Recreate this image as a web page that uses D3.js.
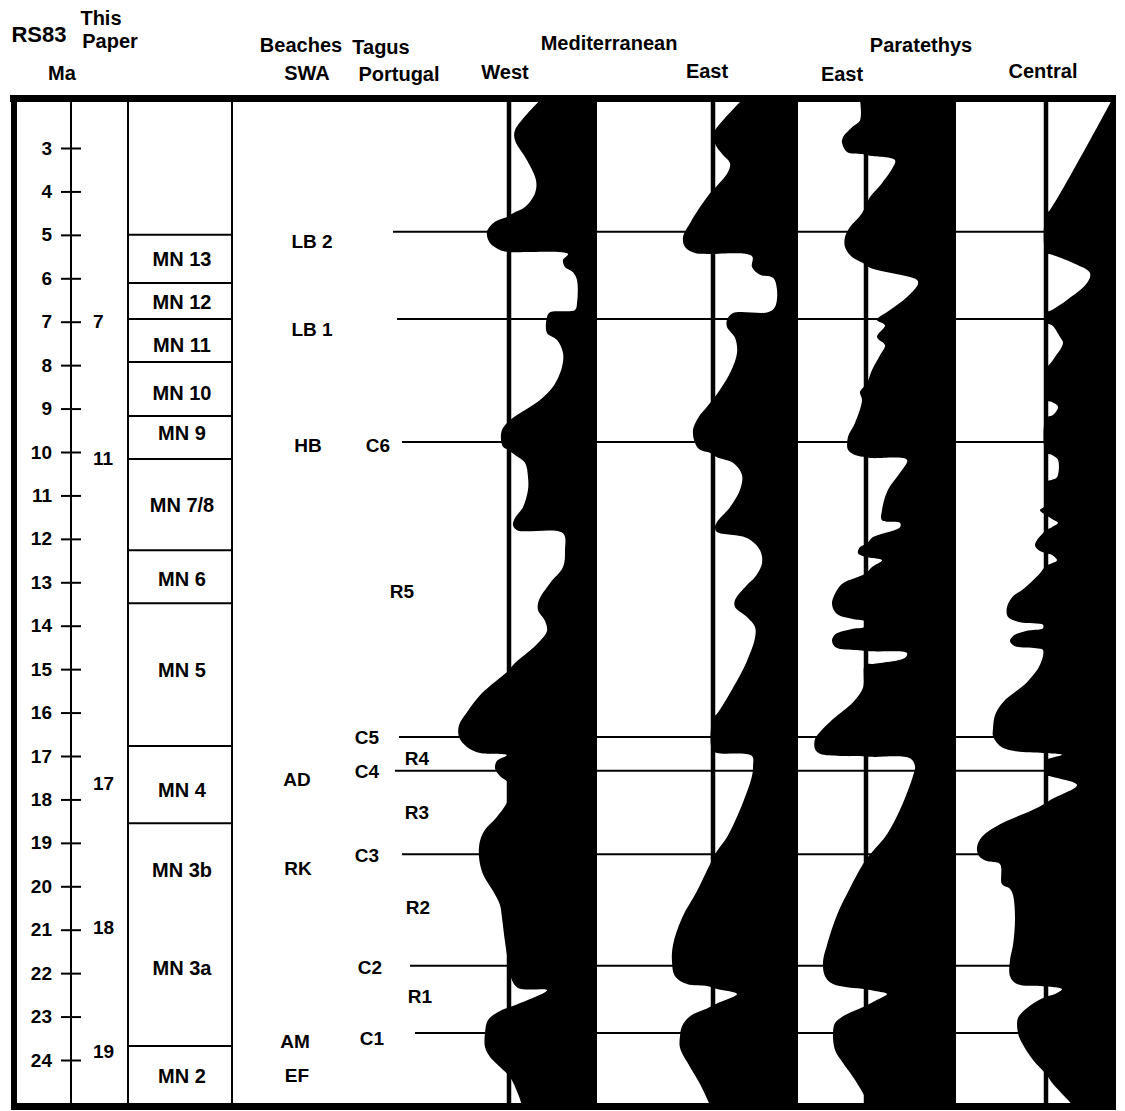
<!DOCTYPE html>
<html><head><meta charset="utf-8">
<script src="https://cdnjs.cloudflare.com/ajax/libs/d3/7.8.5/d3.min.js"></script>
<style>
body{margin:0;background:#fff}
text{font-family:"Liberation Sans",Arial,sans-serif;font-weight:bold;fill:#000}
</style>
</head><body>
<svg id="chart" width="1125" height="1111"></svg>
<script>
// ---------------- DATA ----------------
const tickValues = [3,4,5,6,7,8,9,10,11,12,13,14,15,16,17,18,19,20,21,22,23,24];
const thisPaperLabels = ["7","11","17","18","19"];
const thisPaperAges = [7.0, 10.14, 17.62, 20.95, 23.8];

const mnBoundaries = [5.00, 6.11, 6.94, 7.93, 9.17, 10.16, 12.26, 13.48, 16.77, 18.55, 23.68];
const mnLabels = ["MN 13","MN 12","MN 11","MN 10","MN 9","MN 7/8","MN 6","MN 5","MN 4","MN 3b","MN 3a","MN 2"];
const mnLabelAges = [5.56, 6.55, 7.54, 8.64, 9.56, 11.22, 12.92, 15.02, 17.78, 19.62, 21.88, 24.37];

const beachLabels = ["LB 2","LB 1","HB","AD","RK","AM","EF"];
const beachAges = [5.16, 7.17, 9.84, 17.53, 19.58, 23.56, 24.35];
const tagusLabels = ["C6","R5","C5","R4","C4","R3","C3","R2","C2","R1","C1"];
const tagusAges = [9.84, 13.22, 16.56, 17.05, 17.35, 18.29, 19.28, 20.48, 21.86, 22.53, 23.50];

const eventAges = [4.93, 6.94, 9.77, 16.56, 17.34, 19.26, 21.83, 23.38];

// relative sea-level curves: [age Ma, level units] (positive = landward of reference line)
const medWest = [[1.90,-3.1],[2.59,-0.6],[2.82,-0.6],[3.28,-1.8],[3.74,-2.7],[4.04,-2.6],[4.36,-1.6],[4.50,-0.4],[4.59,0.2],[4.70,1.4],[4.93,2.2],[5.19,1.9],[5.35,0.9],[5.39,0.2],[5.44,-5.9],[5.58,-5.4],[5.74,-5.6],[5.86,-6.4],[6.04,-6.8],[6.57,-6.8],[6.73,-6.6],[6.78,-4.1],[6.89,-3.8],[7.26,-3.8],[7.42,-4.8],[7.72,-5.4],[8.04,-5.3],[8.50,-4.4],[8.80,-3.1],[9.15,-0.8],[9.31,0.1],[9.49,0.7],[9.72,0.8],[9.88,0.6],[9.95,0.1],[10.07,-0.6],[10.25,-1.6],[10.58,-1.9],[10.87,-1.9],[11.27,-1.4],[11.52,-0.6],[11.68,-0.4],[11.80,-0.8],[11.87,-5.4],[12.26,-5.6],[12.65,-5.4],[13.02,-4.1],[13.41,-3.0],[13.64,-2.9],[13.89,-3.6],[14.12,-3.8],[14.35,-3.1],[14.63,-1.8],[14.86,-0.6],[15.04,0.1],[15.20,0.9],[15.60,2.9],[15.99,4.2],[16.29,5.0],[16.56,5.0],[16.79,4.2],[16.93,2.9],[16.98,0.2],[17.11,1.2],[17.28,1.4],[17.46,0.9],[17.62,0.1],[18.01,0.1],[18.40,1.2],[18.70,2.4],[18.96,2.9],[19.33,3.0],[19.72,2.6],[20.11,1.6],[20.43,0.9],[20.73,0.7],[21.28,0.4],[21.74,0.1],[22.04,-0.1],[22.34,-0.9],[22.39,-3.8],[22.71,-0.9],[22.87,0.9],[23.08,2.1],[23.38,2.4],[23.70,2.4],[23.93,1.9],[24.16,0.9],[24.39,-0.1],[24.78,-0.9],[25.05,-1.3]];

const medEast = [[1.89,-2.9],[2.31,-1.2],[2.59,-0.2],[2.70,0.0],[2.95,-0.3],[3.16,-1.0],[3.35,-1.7],[3.55,-1.5],[3.92,-0.2],[4.04,0.3],[4.36,1.3],[4.73,2.3],[5.05,3.0],[5.28,2.8],[5.42,1.8],[5.44,0.6],[5.49,-3.9],[5.74,-3.9],[5.92,-4.7],[5.99,-6.0],[6.27,-6.4],[6.66,-6.2],[6.78,-5.5],[6.80,-2.0],[6.96,-1.4],[7.12,-1.4],[7.37,-2.2],[7.72,-2.4],[8.18,-1.7],[8.73,-0.2],[8.96,0.6],[9.22,1.5],[9.49,2.0],[9.79,1.8],[9.95,1.3],[10.02,0.3],[10.12,-0.4],[10.25,-2.0],[10.53,-2.9],[10.87,-2.7],[11.27,-1.7],[11.61,-0.4],[11.73,-0.2],[11.84,-0.4],[11.98,-3.4],[12.26,-4.7],[12.56,-4.9],[12.88,-4.2],[13.06,-3.4],[13.41,-2.2],[13.57,-2.2],[13.80,-3.4],[14.03,-4.2],[14.28,-4.2],[14.81,-3.4],[15.43,-2.0],[16.03,-0.4],[16.12,0.0],[16.86,0.1],[16.93,-0.4],[17.00,-3.9],[17.23,-4.0],[17.46,-3.9],[18.24,-2.7],[18.87,-1.4],[19.19,-0.4],[19.49,0.3],[20.11,1.6],[20.73,3.1],[21.35,4.0],[21.74,4.1],[22.07,3.8],[22.25,2.6],[22.30,0.5],[22.37,-0.5],[22.48,-2.4],[22.69,-0.5],[22.80,0.5],[22.99,2.3],[23.22,3.1],[23.45,3.3],[23.72,3.3],[24.16,2.3],[24.55,1.3],[24.94,0.5],[25.06,0.3]];

const paraEast = [[1.89,0.6],[2.36,0.6],[2.52,1.4],[2.75,2.3],[2.88,2.4],[3.09,1.9],[3.14,0.4],[3.18,-0.4],[3.28,-2.9],[3.44,-2.7],[3.81,-1.6],[4.13,-0.4],[4.50,0.4],[4.82,1.6],[5.05,2.1],[5.28,2.1],[5.51,1.4],[5.65,0.3],[5.76,-0.4],[6.04,-5.1],[6.13,-5.2],[6.43,-4.1],[6.73,-2.4],[6.96,-1.1],[7.08,-1.9],[7.35,-1.1],[7.54,-1.9],[7.77,-1.4],[8.11,-0.6],[8.41,-0.1],[8.62,0.6],[8.80,0.4],[9.33,1.1],[9.65,1.8],[9.95,1.8],[10.07,1.1],[10.12,0.0],[10.14,-0.6],[10.18,-4.1],[10.48,-3.4],[10.87,-2.2],[11.34,-1.6],[11.57,-1.6],[11.63,-3.4],[11.73,-3.4],[11.96,-0.7],[12.10,-0.1],[12.19,0.6],[12.33,0.8],[12.42,0.0],[12.44,-0.6],[12.49,-1.6],[12.65,-0.6],[12.79,0.0],[13.02,2.3],[13.18,2.9],[13.50,3.4],[13.73,2.9],[13.85,1.2],[13.90,0.1],[14.02,0.1],[14.08,1.5],[14.20,3.1],[14.35,3.4],[14.50,3.0],[14.56,1.0],[14.58,0.0],[14.59,-0.7],[14.63,-4.1],[14.74,-3.9],[14.88,-0.7],[14.90,0.1],[15.43,0.3],[15.76,1.3],[16.15,3.3],[16.45,4.6],[16.61,5.1],[16.84,5.1],[16.95,4.6],[17.00,2.6],[17.01,0.1],[17.02,-0.6],[17.05,-4.4],[17.23,-4.9],[17.46,-4.7],[18.24,-3.4],[18.80,-2.1],[19.19,-0.7],[19.42,0.1],[20.04,1.6],[20.66,2.9],[21.35,3.9],[21.74,4.3],[22.07,4.1],[22.25,3.3],[22.37,0.1],[22.41,-0.9],[22.48,-2.1],[22.64,-0.9],[22.76,0.1],[22.99,2.3],[23.15,3.1],[23.38,3.3],[23.77,3.1],[24.07,2.3],[24.39,1.3],[24.85,0.1],[25.06,-0.2]];

const paraCentral = [[1.89,-6.6],[4.43,-0.4],[4.52,0.0],[5.42,0.0],[5.46,-0.6],[5.65,-2.7],[5.88,-4.4],[6.11,-4.1],[6.50,-2.1],[6.73,-0.6],[6.80,0.0],[7.03,0.0],[7.08,-0.6],[7.35,-1.4],[7.49,-1.7],[7.88,-0.7],[8.11,0.0],[8.80,0.0],[8.85,-0.6],[8.96,-1.2],[9.15,-0.7],[9.22,0.0],[10.02,0.0],[10.07,-0.6],[10.18,-1.2],[10.58,-1.1],[10.64,-0.6],[10.69,0.0],[11.22,0.0],[11.34,0.6],[11.45,0.0],[11.54,-0.6],[11.63,-1.2],[11.73,-0.6],[11.80,0.0],[12.14,1.1],[12.28,0.6],[12.33,0.0],[12.37,-0.6],[12.49,-1.1],[12.56,-0.6],[12.62,0.0],[12.79,0.6],[13.18,2.4],[13.32,3.3],[13.57,3.9],[13.80,3.8],[13.92,2.6],[13.98,0.3],[14.06,0.3],[14.12,2.0],[14.22,3.2],[14.35,3.6],[14.47,3.1],[14.52,1.0],[14.56,0.3],[14.90,0.6],[15.30,1.9],[15.76,4.3],[16.06,5.1],[16.38,5.3],[16.54,5.3],[16.77,4.6],[16.88,3.3],[16.93,0.3],[16.94,-0.6],[16.97,-1.6],[17.04,-0.6],[17.10,0.0],[17.44,0.0],[17.48,-0.6],[17.67,-3.1],[17.99,-0.6],[18.08,0.0],[18.24,1.3],[18.57,4.6],[18.86,6.4],[19.10,6.9],[19.30,6.7],[19.42,5.9],[19.49,4.6],[19.95,4.4],[20.06,3.6],[20.20,3.3],[20.73,3.1],[21.35,3.3],[21.70,3.6],[22.07,3.6],[22.25,2.9],[22.30,0.3],[22.32,-0.7],[22.37,-1.6],[22.48,-0.9],[22.57,0.3],[22.80,1.9],[23.03,2.8],[23.38,2.8],[23.61,2.4],[24.00,1.3],[24.30,0.1],[24.55,-0.7],[24.97,-2.4],[25.06,-2.7]];

// ---------------- LAYOUT ----------------
const W = 1125;
const yTop = 102, yBottom = 1103, frameRight = 1116;
const axisX = 71, col1X = 128, col2X = 232;
const panels = [
  {data: medWest, ref: 509, right: 597},
  {data: medEast, ref: 713, right: 798},
  {data: paraEast, ref: 866, right: 956},
  {data: paraCentral, ref: 1046, right: frameRight}
];
const eventStartX = [393, 397, 402, 399, 395, 402, 410, 415];
const beachX = [312, 312, 308, 297, 298, 295, 297];
const tagusX = [378, 402, 367, 417, 367, 417, 367, 418, 370, 420, 372];
const headers = [
  {t:"RS83", x:39, y:42, s:22}, {t:"This", x:101, y:25, s:20}, {t:"Paper", x:110, y:48, s:20}, {t:"Ma", x:62, y:80, s:20},
  {t:"Beaches", x:301, y:52, s:20}, {t:"Tagus", x:381, y:54, s:20}, {t:"SWA", x:307, y:80, s:20}, {t:"Portugal", x:399, y:81, s:20},
  {t:"Mediterranean", x:609, y:50, s:20}, {t:"West", x:505, y:79, s:20}, {t:"East", x:707, y:78, s:20},
  {t:"Paratethys", x:921, y:52, s:20}, {t:"East", x:842, y:81, s:20}, {t:"Central", x:1043, y:78, s:20}
];

const svg = d3.select("#chart");
const y = d3.scaleLinear().domain([3, 24]).range([148, 1060]);

svg.append("defs").append("clipPath").attr("id","inner")
  .append("rect").attr("x", 0).attr("y", yTop).attr("width", W).attr("height", yBottom - yTop);

// headers
svg.append("g").selectAll("text").data(headers).join("text")
  .attr("x", d => d.x).attr("y", d => d.y).attr("text-anchor","middle")
  .style("font-size", d => d.s + "px").text(d => d.t);

// event lines (behind fills)
svg.append("g").selectAll("line").data(eventAges).join("line")
  .attr("x1", (d,i) => eventStartX[i]).attr("x2", frameRight)
  .attr("y1", d => y(d)).attr("y2", d => y(d))
  .attr("stroke","#000").attr("stroke-width", 2);

// curve fills
const fills = svg.append("g").attr("clip-path","url(#inner)");
panels.forEach(p => {
  const xs = d3.scaleLinear().domain([0, 1]).range([p.ref, p.ref - 10]);
  const area = d3.area().curve(d3.curveCatmullRom.alpha(0.5))
    .y(d => y(d[0])).x0(d => xs(d[1])).x1(p.right);
  fills.append("path").attr("d", area(p.data)).attr("fill","#000");
});
// reference lines
svg.append("g").selectAll("line").data(panels).join("line")
  .attr("x1", d => d.ref).attr("x2", d => d.ref).attr("y1", yTop).attr("y2", yBottom)
  .attr("stroke","#000").attr("stroke-width", 4.5);

// left columns
const cols = svg.append("g").attr("stroke","#000").attr("stroke-width",2);
[axisX, col1X, col2X].forEach(x => cols.append("line").attr("x1",x).attr("x2",x).attr("y1",yTop).attr("y2",yBottom));
cols.selectAll("line.mn").data(mnBoundaries).join("line").attr("class","mn")
  .attr("x1", col1X).attr("x2", col2X).attr("y1", d => y(d)).attr("y2", d => y(d));

// axis ticks crossing the line
const axL = d3.axisLeft(y).tickValues(tickValues).tickSize(10).tickPadding(9).tickFormat(d3.format("d"));
const gA = svg.append("g").attr("transform", `translate(${axisX},0)`).call(axL);
gA.select(".domain").remove();
gA.selectAll(".tick line").attr("stroke","#000").attr("stroke-width",2).attr("x2",10).attr("x1",-10);
gA.selectAll(".tick text").style("font-size","19px").style("font-family","'Liberation Sans',Arial,sans-serif").style("font-weight","bold").attr("fill","#000");

// This Paper labels
svg.append("g").selectAll("text").data(thisPaperLabels).join("text")
  .attr("x", 93).attr("y", (d,i) => y(thisPaperAges[i])).attr("dy","0.35em")
  .style("font-size","19px").text(d => d);

// MN labels
svg.append("g").selectAll("text").data(mnLabels).join("text")
  .attr("x", 182).attr("y", (d,i) => y(mnLabelAges[i])).attr("dy","0.35em")
  .attr("text-anchor","middle").style("font-size","20px").text(d => d);

// Beaches
svg.append("g").selectAll("text").data(beachLabels).join("text")
  .attr("x", (d,i) => beachX[i]).attr("y", (d,i) => y(beachAges[i])).attr("dy","0.35em")
  .attr("text-anchor","middle").style("font-size","19px").text(d => d);
// Tagus
svg.append("g").selectAll("text").data(tagusLabels).join("text")
  .attr("x", (d,i) => tagusX[i]).attr("y", (d,i) => y(tagusAges[i])).attr("dy","0.35em")
  .attr("text-anchor","middle").style("font-size","19px").text(d => d);

// frame
const fr = svg.append("g").attr("stroke","#000");
fr.append("line").attr("x1",10).attr("x2",frameRight).attr("y1",98.5).attr("y2",98.5).attr("stroke-width",7);
fr.append("line").attr("x1",14).attr("x2",14).attr("y1",95).attr("y2",1110).attr("stroke-width",6);
fr.append("line").attr("x1",11).attr("x2",frameRight).attr("y1",1106.5).attr("y2",1106.5).attr("stroke-width",7);
</script>
</body></html>
